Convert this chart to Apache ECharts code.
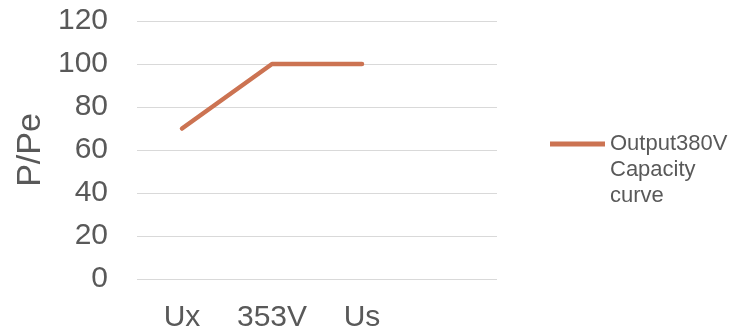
<!DOCTYPE html>
<html>
<head>
<meta charset="utf-8">
<script src="https://cdn.jsdelivr.net/npm/echarts@6/dist/echarts.min.js"></script>
<style>
  html, body { margin: 0; padding: 0; background: #fff; }
  #chart { width: 734px; height: 330px; }
</style>
</head>
<body>
<div id="chart"></div>
<script>
// data
const categories = ['Ux', '353V', 'Us', ''];
const capacity = [70, 100, 100, null];
const yTicks = [0, 20, 40, 60, 80, 100, 120];
const seriesName = 'Output380V\nCapacity\ncurve';

const lineColor = '#CC7352';
const textColor = '#595959';
const font = '"Liberation Sans", Arial, sans-serif';

const chart = echarts.init(document.getElementById('chart'), null, { renderer: 'canvas' });

chart.setOption({
  animation: false,
  grid: { left: 137, right: 237, top: 21, bottom: 51, outerBoundsMode: 'none' },
  legend: {
    data: [seriesName],
    left: 545,
    top: 74,
    icon: 'rect',
    itemWidth: 55,
    itemHeight: 5,
    // two blank lines on top so the icon sits beside the first line
    formatter: name => '\n\n' + name,
    textStyle: {
      fontFamily: font,
      fontSize: 22,
      lineHeight: 26,
      color: textColor
    }
  },
  xAxis: {
    type: 'category',
    data: categories,
    boundaryGap: true,
    axisLine: { show: false },
    axisTick: { show: false },
    axisLabel: {
      interval: 0,
      margin: 24,
      fontFamily: font,
      fontSize: 30,
      color: textColor
    }
  },
  yAxis: {
    type: 'value',
    min: yTicks[0],
    max: yTicks[yTicks.length - 1],
    interval: 20,
    name: 'P/Pe',
    nameLocation: 'middle',
    nameRotate: 90,
    nameGap: 89,
    nameTextStyle: { fontFamily: font, fontSize: 34, color: textColor },
    axisLine: { show: false },
    axisTick: { show: false },
    axisLabel: {
      margin: 29,
      fontFamily: font,
      fontSize: 30,
      color: textColor
    },
    splitLine: { lineStyle: { color: '#D9D9D9', width: 1 } }
  },
  series: [
    {
      name: seriesName,
      type: 'line',
      data: capacity,
      symbol: 'none',
      color: lineColor,
      lineStyle: { color: lineColor, width: 4.5, cap: 'round', join: 'round' }
    }
  ]
});
</script>
</body>
</html>
